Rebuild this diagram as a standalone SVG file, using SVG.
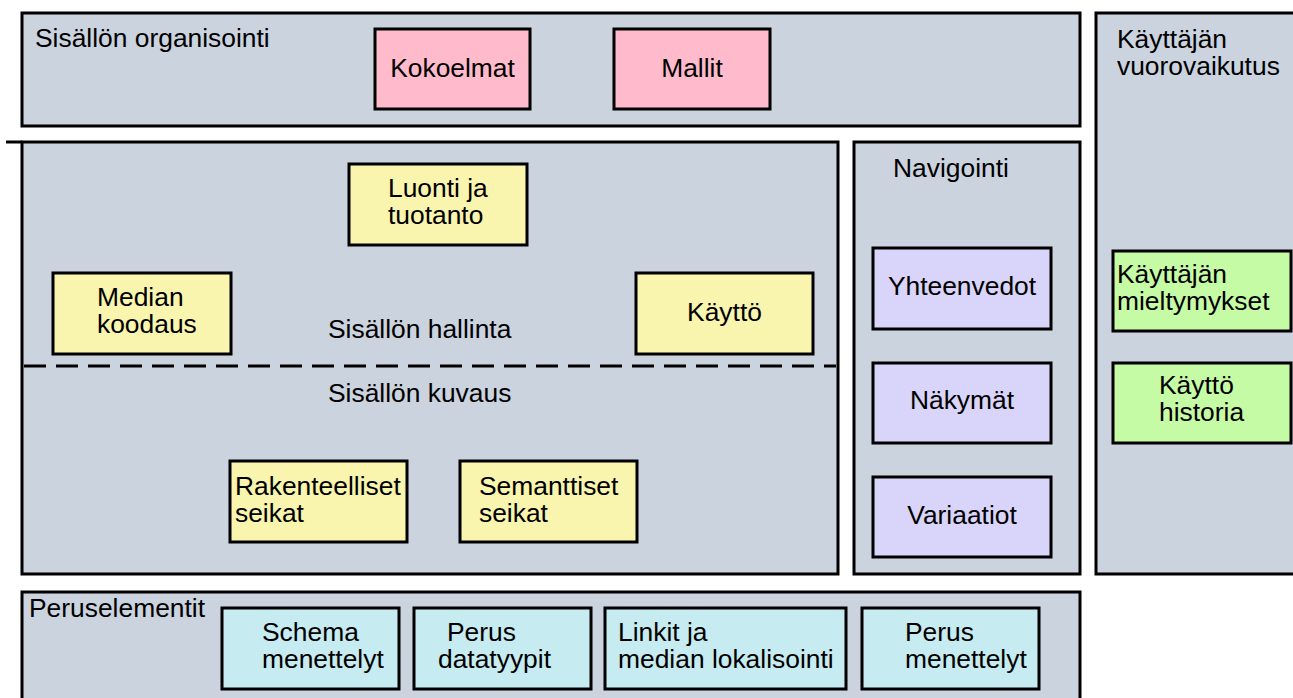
<svg xmlns="http://www.w3.org/2000/svg" width="1293" height="698" viewBox="0 0 1293 698">
  <style>
    .panel { fill: #CBD3DF; stroke: #000; stroke-width: 3; }
    .box { stroke: #000; stroke-width: 3; }
    .pink { fill: #FFBACB; }
    .yellow { fill: #F9F5AE; }
    .lilac { fill: #D8D4FA; }
    .green { fill: #C6FBA6; }
    .cyan { fill: #C6EBF0; }
    text { font-family: "Liberation Sans", Arial, sans-serif; font-size: 26.4px; fill: #000; }
    .mid { text-anchor: middle; }
    .divider { stroke: #000; stroke-width: 3; stroke-dasharray: 22 10; fill: none; }
  </style>

  <rect width="1293" height="698" fill="#FFFFFF"/>

  <!-- Content organisation -->
  <g id="organisointi">
    <rect class="panel" x="22" y="13" width="1058" height="113"/>
    <text x="35" y="47">Sisällön organisointi</text>
  </g>
  <g id="kokoelmat">
    <rect class="box pink" x="375" y="29" width="155" height="80"/>
    <text class="mid" x="452.5" y="77">Kokoelmat</text>
  </g>
  <g id="mallit">
    <rect class="box pink" x="614" y="29" width="156" height="80"/>
    <text class="mid" x="692" y="77">Mallit</text>
  </g>

  <!-- User interaction -->
  <g id="vuorovaikutus">
    <rect class="panel" x="1096" y="13" width="220" height="561"/>
    <text x="1117" y="48"><tspan x="1117">Käyttäjän</tspan><tspan x="1117" dy="27">vuorovaikutus</tspan></text>
  </g>
  <g id="mieltymykset">
    <rect class="box green" x="1113" y="251" width="178" height="80"/>
    <text x="1117" y="283"><tspan x="1117">Käyttäjän</tspan><tspan x="1117" dy="27">mieltymykset</tspan></text>
  </g>
  <g id="historia">
    <rect class="box green" x="1113" y="363" width="178" height="80"/>
    <text x="1159" y="394"><tspan x="1159">Käyttö</tspan><tspan x="1159" dy="27">historia</tspan></text>
  </g>

  <!-- Content management / description -->
  <g id="hallinta">
    <line x1="6" y1="142" x2="22" y2="142" stroke="#000" stroke-width="3"/>
    <rect class="panel" x="22" y="142" width="816" height="432"/>
    <text x="328" y="338">Sisällön hallinta</text>
    <text x="328" y="402">Sisällön kuvaus</text>
  </g>
  <g id="luonti">
    <rect class="box yellow" x="349" y="164" width="178" height="81"/>
    <text x="388" y="197"><tspan x="388">Luonti ja</tspan><tspan x="388" dy="27">tuotanto</tspan></text>
  </g>
  <g id="koodaus">
    <rect class="box yellow" x="53" y="273" width="178" height="81"/>
    <text x="97" y="306"><tspan x="97">Median</tspan><tspan x="97" dy="27">koodaus</tspan></text>
  </g>
  <g id="kaytto">
    <rect class="box yellow" x="636" y="273" width="177" height="81"/>
    <text class="mid" x="724.5" y="321">Käyttö</text>
  </g>
  <g id="rakenteelliset">
    <rect class="box yellow" x="230" y="461" width="177" height="81"/>
    <text x="235" y="495"><tspan x="235">Rakenteelliset</tspan><tspan x="235" dy="27">seikat</tspan></text>
  </g>
  <g id="semanttiset">
    <rect class="box yellow" x="460" y="461" width="177" height="81"/>
    <text x="479" y="495"><tspan x="479">Semanttiset</tspan><tspan x="479" dy="27">seikat</tspan></text>
  </g>

  <!-- Navigation -->
  <g id="navigointi">
    <rect class="panel" x="854" y="142" width="226" height="432"/>
    <text x="893" y="177">Navigointi</text>
  </g>
  <g id="yhteenvedot">
    <rect class="box lilac" x="873" y="248" width="178" height="81"/>
    <text class="mid" x="962" y="295">Yhteenvedot</text>
  </g>
  <g id="nakymat">
    <rect class="box lilac" x="873" y="363" width="178" height="80"/>
    <text class="mid" x="962" y="409">Näkymät</text>
  </g>
  <g id="variaatiot">
    <rect class="box lilac" x="873" y="477" width="178" height="80"/>
    <text class="mid" x="962" y="524">Variaatiot</text>
  </g>

  <!-- Basic elements -->
  <g id="peruselementit">
    <rect class="panel" x="22" y="592" width="1058" height="130"/>
    <text x="29" y="617">Peruselementit</text>
  </g>
  <g id="schema">
    <rect class="box cyan" x="222" y="608" width="177" height="81"/>
    <text x="262" y="641"><tspan x="262">Schema</tspan><tspan x="262" dy="27">menettelyt</tspan></text>
  </g>
  <g id="datatyypit">
    <rect class="box cyan" x="414" y="608" width="177" height="81"/>
    <text x="447" y="641"><tspan x="447">Perus</tspan><tspan x="438" dy="27">datatyypit</tspan></text>
  </g>
  <g id="linkit">
    <rect class="box cyan" x="605" y="608" width="241" height="81"/>
    <text x="618" y="641"><tspan x="618">Linkit ja</tspan><tspan x="618" dy="27">median lokalisointi</tspan></text>
  </g>
  <g id="menettelyt">
    <rect class="box cyan" x="862" y="608" width="177" height="81"/>
    <text x="905" y="641"><tspan x="905">Perus</tspan><tspan x="905" dy="27">menettelyt</tspan></text>
  </g>

  <!-- Connectors: the dashed boundary between management and description -->
  <g id="connectors">
    <line class="divider" x1="24" y1="366" x2="836" y2="366"/>
  </g>
</svg>
